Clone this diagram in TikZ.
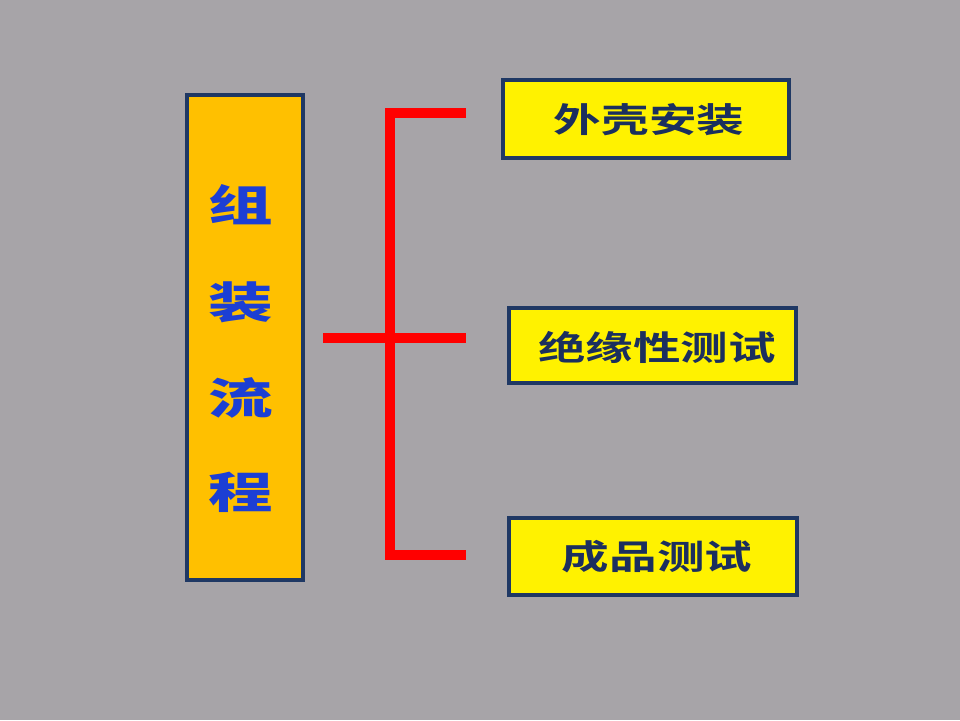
\documentclass[tikz,border=0pt]{standalone}
\usepackage{fontspec}
\newfontfamily\cjkb{Noto Sans CJK SC Bold}
\newfontfamily\cjkk{Noto Sans CJK SC Black}
\definecolor{bggray}{HTML}{A7A4A8}
\definecolor{boxborder}{HTML}{1F3864}
\definecolor{orangebox}{HTML}{FFC000}
\definecolor{bluetext}{HTML}{1C3FD4}
\definecolor{navytext}{HTML}{1B2F5E}
\definecolor{bracketred}{HTML}{FF0000}
\tikzset{
  stepbox/.style={draw=boxborder, line width=3.2pt, fill=yellow, minimum width=286pt, minimum height=77pt, inner sep=0pt},
  mainbox/.style={draw=boxborder, line width=3.2pt, fill=orangebox, minimum width=116pt, minimum height=485pt, inner sep=0pt},
  bracket/.style={draw=bracketred, line width=10pt, line join=miter},
}
\newcommand{\steptext}[1]{\scalebox{1.4}[1]{\fontsize{34}{34}\selectfont\cjkb\color{navytext}#1}}
\newcommand{\maintext}[1]{\scalebox{1.5}[1]{\fontsize{43}{43}\selectfont\cjkk\color{bluetext}#1}}
\begin{document}
\begin{tikzpicture}[x=1pt,y=-1pt]
\fill[bggray] (0,0) rectangle (960,720);
\useasboundingbox (0,0) rectangle (960,720);
% main box
\node[mainbox] (flow) at (245,337.5) {};
\node[inner sep=0pt] (c1) at (241,205) {\maintext{组}};
\node[inner sep=0pt] (c2) at (241,302) {\maintext{装}};
\node[inner sep=0pt] (c3) at (241,398) {\maintext{流}};
\node[inner sep=0pt] (c4) at (241,492) {\maintext{程}};
% step boxes
\node[stepbox, minimum width=286pt, minimum height=78pt] (s1) at (646,119) {};
\node[inner sep=0pt] (t1) at (649,120) {\steptext{外壳安装}};
\node[stepbox, minimum width=287pt, minimum height=75pt] (s2) at (652.5,345.5) {};
\node[inner sep=0pt] (t2) at (657,347) {\steptext{绝缘性测试}};
\node[stepbox, minimum width=288pt, minimum height=77pt] (s3) at (653,556.5) {};
\node[inner sep=0pt] (t3) at (657,557) {\steptext{成品测试}};
% bracket
\coordinate (hubL) at (323,338);
\coordinate (hub) at (390,338);
\coordinate (vtop) at (390,113);
\coordinate (vbot) at (390,555);
\coordinate (e1) at (466,113);
\coordinate (e2) at (466,338);
\coordinate (e3) at (466,555);
\draw[bracket] (e1) -- (vtop) -- (vbot) -- (e3);
\draw[bracket] (hubL) -- (e2);
\end{tikzpicture}
\end{document}
